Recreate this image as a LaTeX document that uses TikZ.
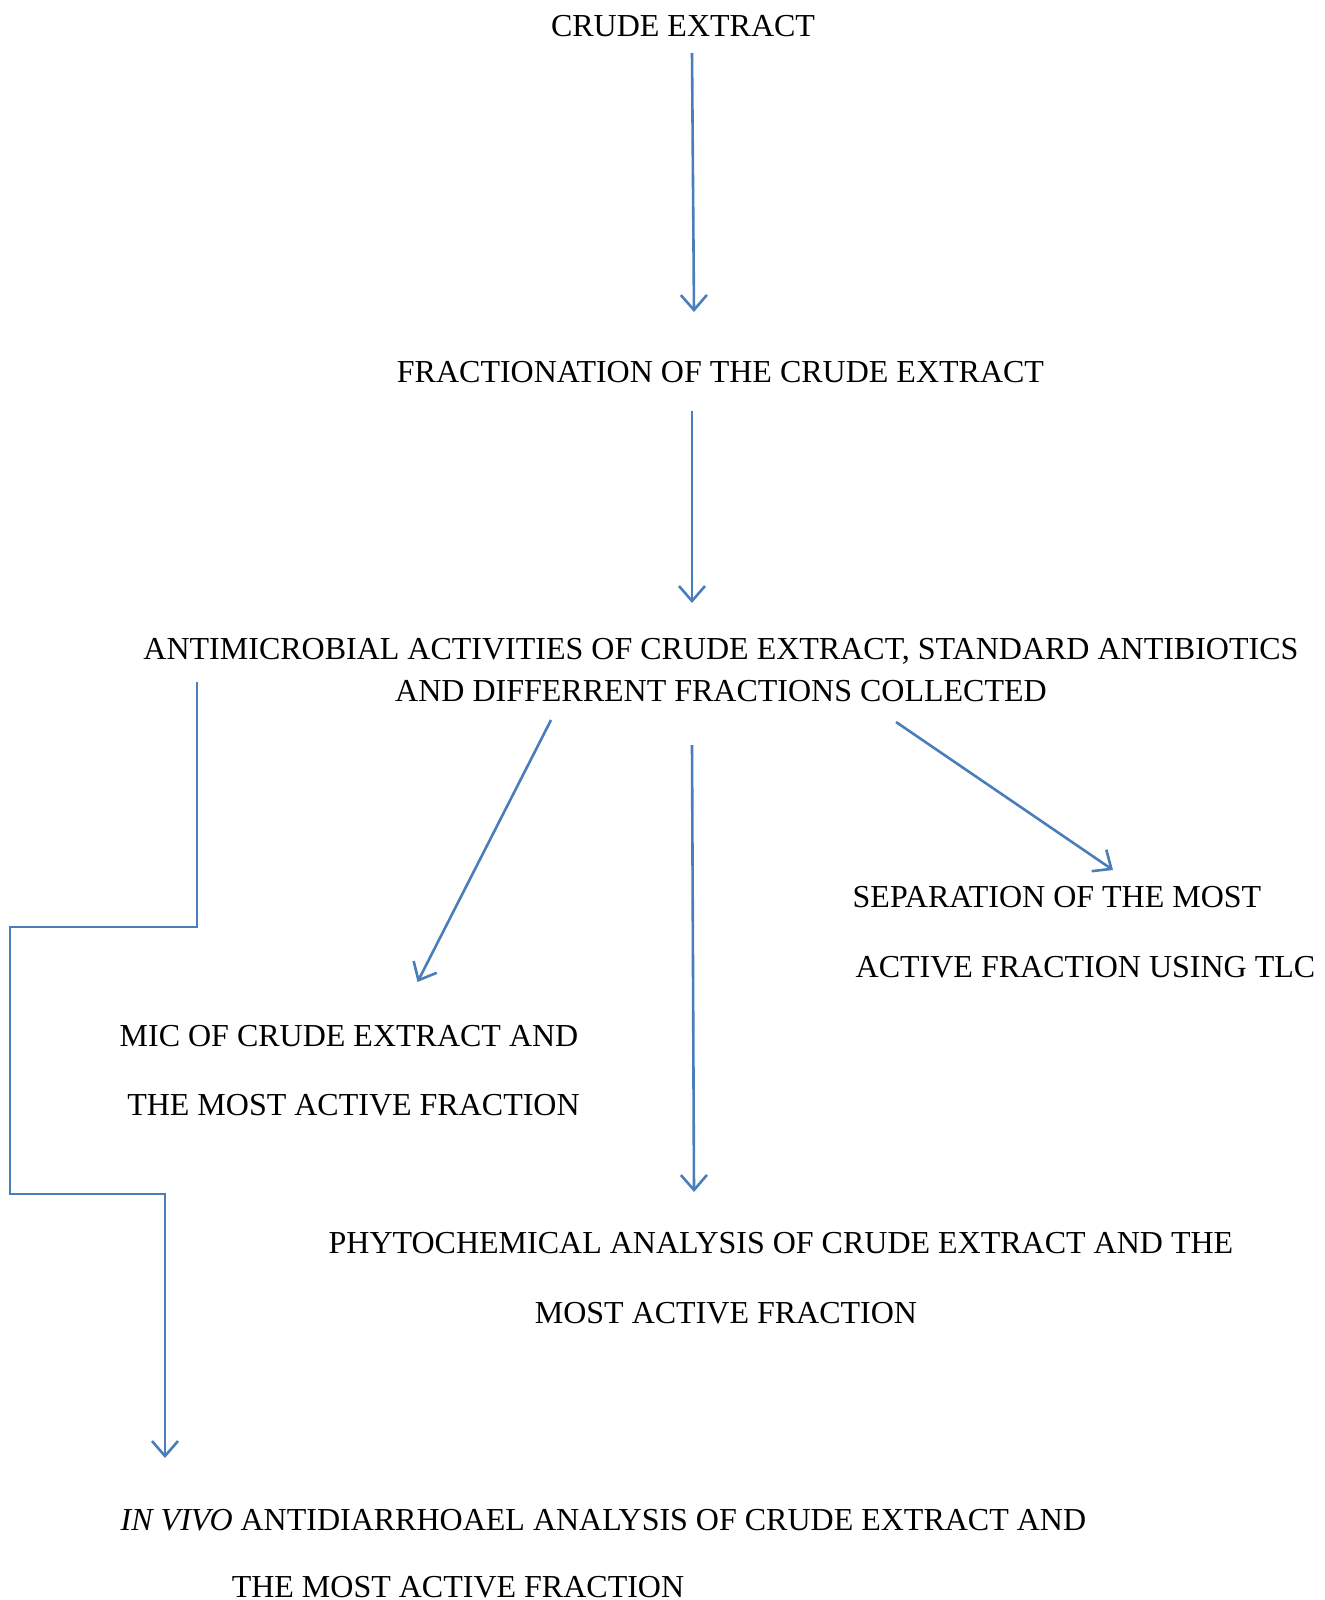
\documentclass[tikz,border=0pt]{standalone}
\usepackage{fontspec}
\setmainfont{Liberation Serif}
\usetikzlibrary{arrows.meta}
\definecolor{flowblue}{RGB}{74,126,187}
\begin{document}
\begin{tikzpicture}[x=0.5pt,y=-0.5pt,
  lbl/.style={anchor=base,inner sep=0pt,font=\fontsize{16}{19}\selectfont},
  flow/.style={draw=flowblue,line width=1.3pt,-{Straight Barb[length=7.5pt,width=13pt,line width=1.3pt]}},
  plain/.style={draw=flowblue,line width=1.3pt}]
\useasboundingbox (0,0) rectangle (1325,1600);
% texts
\node[lbl] (crude) at (683,37) {CRUDE EXTRACT};
\node[lbl] (frac) at (720.5,382) {FRACTIONATION OF THE CRUDE EXTRACT};
\node[lbl] (anti1) at (721,659.5) {ANTIMICROBIAL ACTIVITIES OF CRUDE EXTRACT, STANDARD ANTIBIOTICS};
\node[lbl] (anti2) at (721,701.5) {AND DIFFERRENT FRACTIONS COLLECTED};
\node[lbl] (sep1) at (1057,907.5) {SEPARATION OF THE MOST};
\node[lbl] (sep2) at (1085.5,977.5) {ACTIVE FRACTION USING TLC};
\node[lbl] (mic1) at (349,1046.5) {MIC OF CRUDE EXTRACT AND};
\node[lbl] (mic2) at (353.5,1115.5) {THE MOST ACTIVE FRACTION};
\node[lbl] (phy1) at (781,1253.5) {PHYTOCHEMICAL ANALYSIS OF CRUDE EXTRACT AND THE};
\node[lbl] (phy2) at (726,1323.5) {MOST ACTIVE FRACTION};
\node[lbl] (viv1) at (603.5,1530.5) {\textit{IN VIVO} ANTIDIARRHOAEL ANALYSIS OF CRUDE EXTRACT AND};
\node[lbl] (viv2) at (458,1597.5) {THE MOST ACTIVE FRACTION};
% connector end points
\coordinate (a1s) at (692,53);   \coordinate (a1e) at (694,312);
\coordinate (a2s) at (692,411);  \coordinate (a2e) at (692,603);
\coordinate (a3s) at (551,720);  \coordinate (a3e) at (417.5,982);
\coordinate (a4s) at (692,745);  \coordinate (a4e) at (694,1192);
\coordinate (a5s) at (896,722);  \coordinate (a5e) at (1113,870);
\coordinate (p0) at (197,682);
\coordinate (p1) at (197,927);
\coordinate (p2) at (10,927);
\coordinate (p3) at (10,1194);
\coordinate (p4) at (165,1194);
\coordinate (p5) at (165,1458);
% connectors
\draw[flow] (a1s) -- (a1e);
\draw[flow] (a2s) -- (a2e);
\draw[flow] (a3s) -- (a3e);
\draw[flow] (a4s) -- (a4e);
\draw[flow] (a5s) -- (a5e);
\draw[flow] (p0) -- (p1) -- (p2) -- (p3) -- (p4) -- (p5);
\end{tikzpicture}
\end{document}
